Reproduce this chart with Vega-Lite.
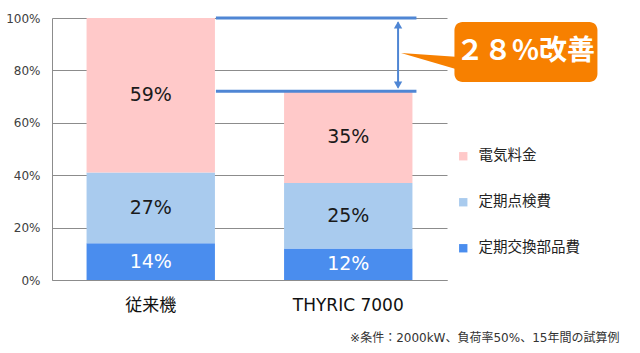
{
  "$schema": "https://vega.github.io/schema/vega-lite/v6.json",
  "width": 395,
  "height": 262,
  "autosize": {"type": "none"},
  "padding": {"left": 52, "top": 18, "right": 193, "bottom": 73},
  "background": "white",
  "config": {"view": {"stroke": null}, "font": "DejaVu Sans, Noto Sans CJK JP"},
  "datasets": {
    "costs": [
      {"m": "従来機", "c": "定期交換部品費", "v": 14, "o": 1, "label": "14%"},
      {"m": "従来機", "c": "定期点検費", "v": 27, "o": 2, "label": "27%"},
      {"m": "従来機", "c": "電気料金", "v": 59, "o": 3, "label": "59%"},
      {"m": "THYRIC 7000", "c": "定期交換部品費", "v": 12, "o": 1, "label": "12%"},
      {"m": "THYRIC 7000", "c": "定期点検費", "v": 25, "o": 2, "label": "25%"},
      {"m": "THYRIC 7000", "c": "電気料金", "v": 35, "o": 3, "label": "35%"}
    ],
    "gap": [
      {"from": "従来機", "to": "THYRIC 7000", "v": 100},
      {"from": "従来機", "to": "THYRIC 7000", "v": 72}
    ],
    "arrow": [{"m": "THYRIC 7000", "top": 98.3, "bottom": 73.5}],
    "heads": [
      {"m": "THYRIC 7000", "y": 97.4, "dir": "up"},
      {"m": "THYRIC 7000", "y": 74.4, "dir": "down"}
    ],
    "callout": [{"m": "THYRIC 7000", "top": 98.5, "bottom": 75.6, "mid": 87, "tip": 83.4, "label": "２８%改善"}]
  },
  "title": {
    "text": "※条件：2000kW、負荷率50%、15年間の試算例",
    "orient": "bottom",
    "anchor": "end",
    "dx": 22,
    "offset": 20,
    "fontSize": 12,
    "fontWeight": "normal",
    "color": "#333333",
    "font": "DejaVu Sans, Noto Sans CJK JP"
  },
  "layer": [
    {
      "data": {"name": "costs"},
      "mark": {"type": "bar"},
      "encoding": {
        "x": {
          "field": "m", "type": "nominal", "sort": null, "title": null,
          "scale": {"domain": ["従来機", "THYRIC 7000"], "paddingInner": 0.35, "paddingOuter": 0.175},
          "axis": {"labelAngle": 0, "ticks": false, "labelFontSize": 17, "labelColor": "#111111", "labelPadding": 17, "domainColor": "#8c8c8c", "grid": false}
        },
        "y": {
          "field": "v", "type": "quantitative", "stack": "zero", "title": null,
          "scale": {"domain": [0, 100], "nice": false},
          "axis": {"values": [0, 20, 40, 60, 80, 100], "labelExpr": "datum.value + '%'", "ticks": false, "labelFontSize": 12, "labelColor": "#404040", "labelPadding": 12, "domainColor": "#8c8c8c", "gridColor": "#8c8c8c", "grid": true}
        },
        "color": {
          "field": "c", "type": "nominal",
          "scale": {"domain": ["電気料金", "定期点検費", "定期交換部品費"], "range": ["#FFC9C9", "#A9CBEE", "#4A8DEE"]},
          "legend": {"title": null, "orient": "none", "legendX": 404, "legendY": 131, "symbolType": "square", "symbolSize": 70, "labelFontSize": 14.5, "labelOffset": 8, "rowPadding": 31, "padding": 0, "labelColor": "#222222", "labelFont": "Noto Sans CJK JP"}
        },
        "order": {"field": "o", "type": "quantitative"}
      }
    },
    {
      "data": {"name": "costs"},
      "mark": {"type": "text", "fontSize": 19},
      "encoding": {
        "x": {"field": "m", "type": "nominal", "sort": null, "title": null},
        "y": {"field": "v", "type": "quantitative", "stack": "zero", "bandPosition": 0.5, "title": null},
        "detail": {"field": "c", "type": "nominal"},
        "order": {"field": "o", "type": "quantitative"},
        "text": {"field": "label", "type": "nominal"},
        "color": {"condition": {"test": "datum.c === '定期交換部品費'", "value": "#ffffff"}, "value": "#1a1a1a"}
      }
    },
    {
      "data": {"name": "gap"},
      "mark": {"type": "rule", "color": "#4F86D4", "strokeWidth": 3, "xOffset": 1, "x2Offset": 4},
      "encoding": {
        "x": {"field": "from", "type": "nominal", "bandPosition": 1, "title": null},
        "x2": {"field": "to", "bandPosition": 1},
        "y": {"field": "v", "type": "quantitative", "title": null}
      }
    },
    {
      "data": {"name": "arrow"},
      "mark": {"type": "rule", "color": "#4F86D4", "strokeWidth": 2},
      "encoding": {
        "x": {"field": "m", "type": "nominal", "bandPosition": 0.888, "title": null},
        "y": {"field": "top", "type": "quantitative", "title": null},
        "y2": {"field": "bottom"}
      }
    },
    {
      "data": {"name": "heads"},
      "mark": {"type": "point", "filled": true, "color": "#4F86D4", "size": 70, "opacity": 1},
      "encoding": {
        "x": {"field": "m", "type": "nominal", "bandPosition": 0.888, "title": null},
        "y": {"field": "y", "type": "quantitative", "title": null},
        "shape": {"field": "dir", "type": "nominal", "scale": {"domain": ["up", "down"], "range": ["triangle-up", "triangle-down"]}, "legend": null}
      }
    },
    {
      "data": {"name": "callout"},
      "mark": {"type": "rect", "color": "#F78000", "cornerRadius": 8, "xOffset": 42, "x2Offset": 185},
      "encoding": {
        "x": {"field": "m", "type": "nominal", "bandPosition": 1, "title": null},
        "x2": {"field": "m", "bandPosition": 1},
        "y": {"field": "top", "type": "quantitative", "title": null},
        "y2": {"field": "bottom"}
      }
    },
    {
      "data": {"name": "callout"},
      "mark": {"type": "point", "filled": true, "color": "#F78000", "opacity": 1, "size": 2916, "xOffset": 15.6, "shape": "M -1 -0.315 L 1.15 -0.167 L 1.15 0.315 Z"},
      "encoding": {
        "x": {"field": "m", "type": "nominal", "bandPosition": 1, "title": null},
        "y": {"field": "tip", "type": "quantitative", "title": null}
      }
    },
    {
      "data": {"name": "callout"},
      "mark": {"type": "text", "fontSize": 28, "fontWeight": "bold", "color": "#ffffff", "font": "Noto Sans CJK JP", "dx": 113},
      "encoding": {
        "x": {"field": "m", "type": "nominal", "bandPosition": 1, "title": null},
        "y": {"field": "mid", "type": "quantitative", "title": null},
        "text": {"field": "label", "type": "nominal"}
      }
    }
  ]
}
